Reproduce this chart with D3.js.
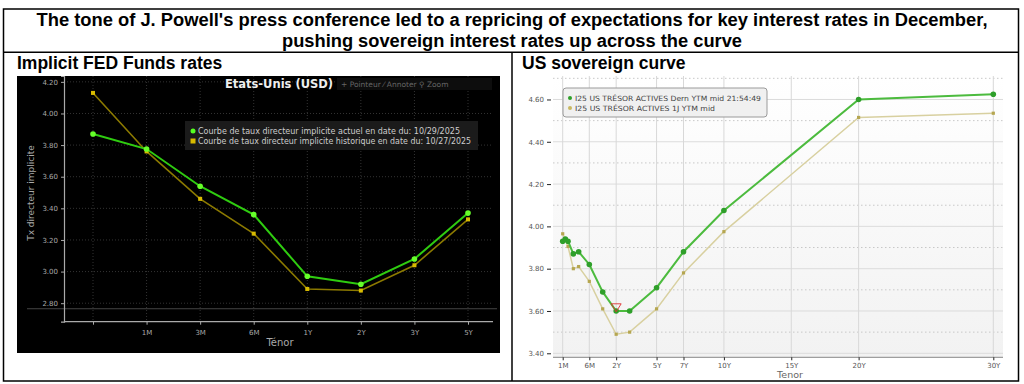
<!DOCTYPE html>
<html>
<head>
<meta charset="utf-8">
<script src="https://cdn.jsdelivr.net/npm/d3@7"></script>
<style>
  body { margin: 0; background: #fff; }
  svg { display: block; }
</style>
</head>
<body>
<svg id="chart" width="1024" height="384"></svg>
<script>
// ---- Data ----
const titleLines = [
    "The tone of J. Powell's press conference led to a repricing of expectations for key interest rates in December,",
    "pushing sovereign interest rates up across the curve"
];

// Left: implied FED funds curve
const fedTenors = ["", "1M", "3M", "6M", "1Y", "2Y", "3Y", "5Y"];
const fedCurrent = [3.87, 3.775, 3.54, 3.36, 2.97, 2.92, 3.08, 3.37];
const fedHistoric = [4.13, 3.76, 3.46, 3.24, 2.89, 2.88, 3.04, 3.33];
const fedYTicks = [2.80, 3.00, 3.20, 3.40, 3.60, 3.80, 4.00, 4.20];
const fedLegend = [
    "Courbe de taux directeur implicite actuel en date du: 10/29/2025",
    "Courbe de taux directeur implicite historique en date du: 10/27/2025"
];

// Right: US treasury curve (tenor in years)
const ustTenors = [1/12, 1.5/12, 2/12, 3/12, 4/12, 0.5, 1, 2, 3, 5, 7, 10, 20, 30];
const ustLast = [3.93, 3.94, 3.93, 3.87, 3.88, 3.82, 3.69, 3.60, 3.60, 3.71, 3.88, 4.075, 4.60, 4.625];
const ust1D = [3.965, 3.935, 3.905, 3.80, 3.81, 3.74, 3.61, 3.49, 3.50, 3.61, 3.78, 3.975, 4.515, 4.535];
const ustXTicks = [[1/12, "1M"], [0.5, "6M"], [2, "2Y"], [5, "5Y"], [7, "7Y"], [10, "10Y"], [15, "15Y"], [20, "20Y"], [30, "30Y"]];
const ustYTicks = [3.40, 3.60, 3.80, 4.00, 4.20, 4.40, 4.60];
const ustLegend = [
    "I25 US TRÉSOR ACTIVES Dern YTM mid 21:54:49",
    "I25 US TRÉSOR ACTIVES 1J YTM mid"
];

const svg = d3.select("#chart");
const sans = "'Liberation Sans', Arial, sans-serif";
const ui = "'DejaVu Sans', sans-serif";

// ---- 1. Frame + titles ----
svg.append("rect").attr("x", 3.5).attr("y", 9).attr("width", 1015).attr("height", 372)
    .attr("fill", "none").attr("stroke", "#000").attr("stroke-width", 1.5);
svg.append("line").attr("x1", 3).attr("x2", 1019).attr("y1", 52.3).attr("y2", 52.3)
    .attr("stroke", "#000").attr("stroke-width", 1.5);
svg.append("line").attr("x1", 512).attr("x2", 512).attr("y1", 52).attr("y2", 381)
    .attr("stroke", "#000").attr("stroke-width", 1.5);

const titleWidths = [951, 460];
svg.selectAll(".title").data(titleLines).join("text")
    .attr("class", "title")
    .attr("x", 512).attr("y", (d, i) => 26 + i * 20.5)
    .attr("text-anchor", "middle")
    .attr("textLength", (d, i) => titleWidths[i])
    .attr("lengthAdjust", "spacingAndGlyphs")
    .style("font", `bold 17.5px ${sans}`)
    .text(d => d);

svg.append("text").attr("x", 17).attr("y", 68.5)
    .style("font", `bold 17.5px ${sans}`).text("Implicit FED Funds rates");
svg.append("text").attr("x", 522).attr("y", 68.5)
    .style("font", `bold 17.5px ${sans}`).text("US sovereign curve");

// ---- 2. Left chart (dark Bloomberg style) ----
const L = { x0: 17, y0: 76, w: 483, h: 277, axX: 64, axY: 321.7, right: 493 };
const gl = svg.append("g");
gl.append("rect").attr("x", L.x0).attr("y", L.y0).attr("width", L.w).attr("height", L.h).attr("fill", "#000");

const xL = d3.scalePoint().domain(fedTenors).range([93, 468]);
const yL = d3.scaleLinear().domain([2.683, 4.237]).range([L.axY, L.y0]);

// grid
gl.selectAll(".lgy").data(fedYTicks).join("line")
    .attr("x1", L.axX).attr("x2", L.right).attr("y1", d => yL(d)).attr("y2", d => yL(d))
    .attr("stroke", "#333").attr("stroke-dasharray", "1,2");
gl.selectAll(".lgx").data(fedTenors).join("line")
    .attr("x1", d => xL(d)).attr("x2", d => xL(d)).attr("y1", L.y0).attr("y2", L.axY)
    .attr("stroke", "#333").attr("stroke-dasharray", "1,2");
gl.append("line").attr("x1", 27).attr("x2", 497).attr("y1", yL(2.765)).attr("y2", yL(2.765))
    .attr("stroke", "#555").attr("stroke-width", 0.8);

// axes
const axL = gl.append("g").attr("transform", `translate(${L.axX},0)`)
    .call(d3.axisLeft(yL).tickValues(fedYTicks).tickFormat(d3.format(".2f")).tickSize(3));
const axB = gl.append("g").attr("transform", `translate(0,${L.axY})`)
    .call(d3.axisBottom(xL).tickSize(3).tickPadding(5));
axB.select(".domain").attr("d", `M${L.axX},0H${L.right}`);
[axL, axB].forEach(a => {
    a.select(".domain").attr("stroke", "#aaa").attr("stroke-width", 1.2);
    a.selectAll(".tick line").attr("stroke", "#aaa");
    a.selectAll("text").attr("fill", "#aaa").style("font", `7px ${ui}`);
});

gl.append("text").attr("x", 280).attr("y", 346).attr("text-anchor", "middle")
    .attr("fill", "#aaa").style("font", `10px ${ui}`).text("Ténor");
gl.append("text").attr("transform", `translate(34,193) rotate(-90)`).attr("text-anchor", "middle")
    .attr("fill", "#aaa").style("font", `9px ${ui}`).text("Tx directeur implicite");

// header
gl.append("text").attr("x", 279).attr("y", 88).attr("text-anchor", "middle")
    .attr("fill", "#eee").style("font", `bold 11.5px ${ui}`).text("Etats-Unis (USD)");
gl.append("rect").attr("x", 337).attr("y", 78).attr("width", 155).attr("height", 12).attr("fill", "#0d0d0d");
gl.append("text").attr("x", 341).attr("y", 87)
    .attr("fill", "#666").style("font", `7.5px ${ui}`)
    .text("+ Pointeur  ⁄ Annoter  ⚲ Zoom");

// lines
const lineL = d3.line().x((d, i) => xL(fedTenors[i])).y(d => yL(d));
gl.append("path").datum(fedHistoric).attr("d", lineL)
    .attr("fill", "none").attr("stroke", "#8c7a00").attr("stroke-width", 1.6);
gl.append("path").datum(fedCurrent).attr("d", lineL)
    .attr("fill", "none").attr("stroke", "#2fcc10").attr("stroke-width", 2);
gl.selectAll(".hm").data(fedHistoric).join("rect")
    .attr("x", (d, i) => xL(fedTenors[i]) - 2).attr("y", d => yL(d) - 2)
    .attr("width", 4).attr("height", 4).attr("fill", "#d8bb00");
gl.selectAll(".cm").data(fedCurrent).join("circle")
    .attr("cx", (d, i) => xL(fedTenors[i])).attr("cy", d => yL(d)).attr("r", 2.8)
    .attr("fill", "#66ff2a");

// legend
gl.append("rect").attr("x", 185).attr("y", 121).attr("width", 293).attr("height", 29).attr("fill", "#1b1b1b");
const lgL = gl.selectAll(".lgl").data(fedLegend).join("g")
    .attr("transform", (d, i) => `translate(193,${131 + i * 10})`);
lgL.append("rect").attr("x", -2.5).attr("y", -2.5).attr("width", 5).attr("height", 5).attr("rx", (d, i) => i ? 0 : 2.5)
    .attr("fill", (d, i) => i ? "#d8bb00" : "#55ff22");
lgL.append("text").attr("x", 5).attr("y", 3).attr("fill", "#ccc").style("font", `8.2px ${ui}`)
    .attr("textLength", (d, i) => i ? 273 : 262).attr("lengthAdjust", "spacingAndGlyphs").text(d => d);

// ---- 3. Right chart (light style) ----
const R = { left: 553, right: 1003, top: 76, bottom: 357.3 };
const gr = svg.append("g");
const grad = svg.append("defs").append("linearGradient").attr("id", "bgR")
    .attr("x1", 0).attr("x2", 0).attr("y1", 0).attr("y2", 1);
grad.append("stop").attr("offset", 0).attr("stop-color", "#ffffff");
grad.append("stop").attr("offset", 1).attr("stop-color", "#f2f2f2");
gr.append("rect").attr("x", R.left).attr("y", R.top).attr("width", R.right - R.left).attr("height", R.bottom - R.top)
    .attr("fill", "url(#bgR)");

// short end stretched, linear in years beyond 1Y
const xR = d3.scaleLinear().domain([1/12, 0.5, 1, 30]).range([562.7, 589.3, 602.7, 993.3]);
const yR = d3.scaleLinear().domain([3.381, 4.711]).range([R.bottom, R.top]);

const minorY = d3.range(3.5, 4.75, 0.2);
gr.selectAll(".rgm").data(minorY).join("line")
    .attr("x1", R.left).attr("x2", R.right).attr("y1", d => yR(d)).attr("y2", d => yR(d))
    .attr("stroke", "#c8c8c8").attr("stroke-dasharray", "1.5,2.5");
gr.selectAll(".rgy").data(ustYTicks).join("line")
    .attr("x1", R.left).attr("x2", R.right).attr("y1", d => yR(d)).attr("y2", d => yR(d))
    .attr("stroke", "#dcdcdc");
gr.selectAll(".rgx").data(ustXTicks).join("line")
    .attr("x1", d => xR(d[0])).attr("x2", d => xR(d[0])).attr("y1", R.top).attr("y2", R.bottom)
    .attr("stroke", "#d8d8d8");

const axRL = gr.append("g").attr("transform", `translate(${R.left - 2},0)`)
    .call(d3.axisLeft(yR).tickValues(ustYTicks).tickFormat(d3.format(".2f")).tickSize(4).tickPadding(3));
axRL.select(".domain").remove();
const axRB = gr.append("g").attr("transform", `translate(0,${R.bottom})`)
    .call(d3.axisBottom(xR).tickValues(ustXTicks.map(d => d[0]))
        .tickFormat((d, i) => ustXTicks[i][1]).tickSize(3).tickPadding(3));
axRB.select(".domain").attr("d", `M${R.left},0H${R.right}`);
[axRL, axRB].forEach(a => {
    a.select(".domain").attr("stroke", "#888");
    a.selectAll(".tick line").attr("stroke", "#222");
    a.selectAll("text").attr("fill", "#555").style("font", `7px ${ui}`);
});
gr.append("text").attr("x", 790).attr("y", 378).attr("text-anchor", "middle")
    .attr("fill", "#666").style("font", `9.5px ${ui}`).text("Tenor");

const lineR = d3.line().x((d, i) => xR(ustTenors[i])).y(d => yR(d));
gr.append("path").datum(ust1D).attr("d", lineR)
    .attr("fill", "none").attr("stroke", "#d8d0a0").attr("stroke-width", 1.5);
gr.selectAll(".om").data(ust1D).join("rect")
    .attr("x", (d, i) => xR(ustTenors[i]) - 1.6).attr("y", d => yR(d) - 1.6)
    .attr("width", 3.2).attr("height", 3.2).attr("fill", "#b5a650");
gr.append("path").datum(ustLast).attr("d", lineR)
    .attr("fill", "none").attr("stroke", "#4cbb3e").attr("stroke-width", 2);
gr.selectAll(".lm").data(ustLast).join("circle")
    .attr("cx", (d, i) => xR(ustTenors[i])).attr("cy", d => yR(d)).attr("r", 2.8)
    .attr("fill", "#2f9f2a");

// red marker on the 2Y point
const tx = xR(2), ty = yR(3.615);
gr.append("path").attr("d", `M${tx - 5},${ty - 4}H${tx + 5}L${tx},${ty + 4}Z`)
    .attr("fill", "none").attr("stroke", "#e03030").attr("stroke-width", 0.9);

// legend
gr.append("rect").attr("x", 563).attr("y", 88).attr("width", 204).attr("height", 29).attr("rx", 3)
    .attr("fill", "#f0f0f0").attr("stroke", "#9a9a9a");
const lgR = gr.selectAll(".lgr").data(ustLegend).join("g")
    .attr("transform", (d, i) => `translate(570,${98 + i * 10})`);
lgR.append("circle").attr("r", 2).attr("fill", (d, i) => i ? "#c8b860" : "#2f9f2a");
lgR.append("text").attr("x", 5).attr("y", 2.5).attr("fill", "#444").style("font", `7.2px ${ui}`)
    .attr("textLength", (d, i) => i ? 140 : 186).attr("lengthAdjust", "spacingAndGlyphs").text(d => d);
</script>
</body>
</html>
